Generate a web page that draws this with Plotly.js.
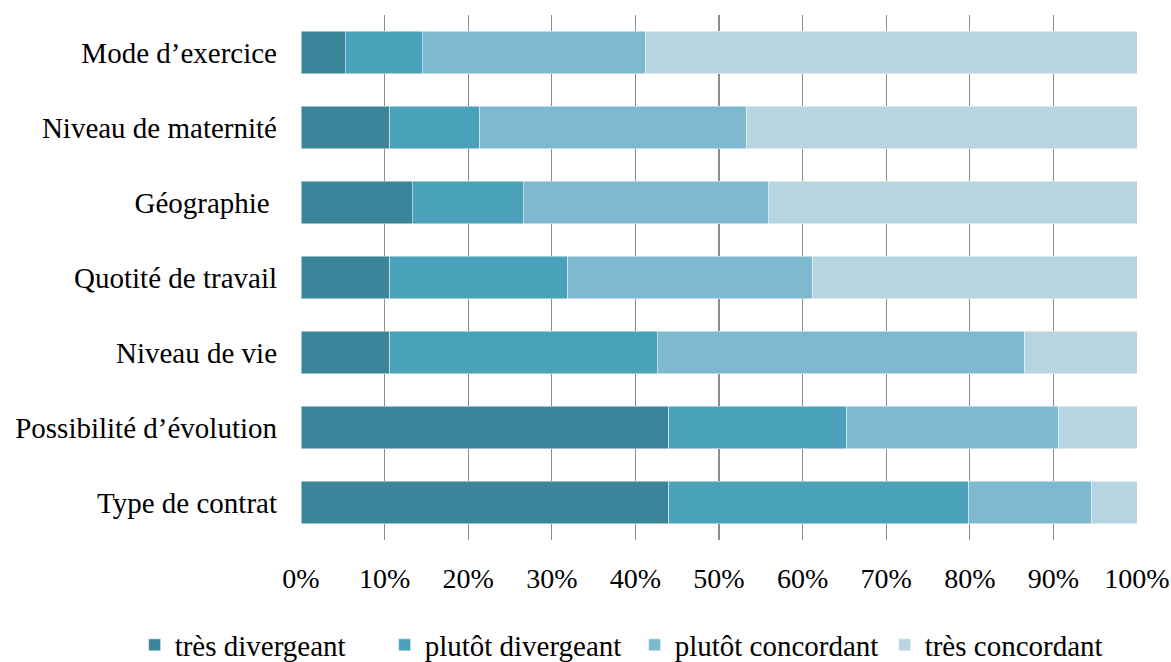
<!DOCTYPE html>
<html>
<head>
<meta charset="utf-8">
<script src="https://cdn.plot.ly/plotly-3.0.1.min.js"></script>
<style>html,body{margin:0;padding:0;background:#fff;}#chart{width:1171px;height:662px;}</style>
</head>
<body>
<div id="chart"></div>
<script>
const categories = ["Mode d\u2019exercice", "Niveau de maternit\u00e9", "G\u00e9ographie ", "Quotit\u00e9 de travail", "Niveau de vie", "Possibilit\u00e9 d\u2019\u00e9volution", "Type de contrat"];
const seriesNames = ["tr\u00e8s divergeant", "plut\u00f4t divergeant", "plut\u00f4t concordant", "tr\u00e8s concordant"];
const tresDivergeant = [5.3, 10.6, 13.3, 10.6, 10.6, 44.0, 44.0];
const plutotDivergeant = [9.2, 10.8, 13.3, 21.3, 32.0, 21.3, 35.9];
const plutotConcordant = [26.7, 31.9, 29.3, 29.3, 44.0, 25.3, 14.7];
const tresConcordant = [58.8, 46.7, 44.1, 38.8, 13.4, 9.4, 5.4];
const tickVals = [0, 10, 20, 30, 40, 50, 60, 70, 80, 90, 100];
const tickText = ["0%", "10%", "20%", "30%", "40%", "50%", "60%", "70%", "80%", "90%", "100%"];

const colors = ["#3A8599", "#49A1BA", "#7EB9CF", "#B7D5E0"];
const allValues = [tresDivergeant, plutotDivergeant, plutotConcordant, tresConcordant];
const font = "'Liberation Serif', 'Times New Roman', serif";

const traces = allValues.map((vals, i) => ({
  type: "bar",
  orientation: "h",
  name: seriesNames[i],
  x: vals,
  y: categories,
  marker: {color: colors[i], line: {color: "rgba(255,255,255,0.6)", width: 0.8}},
  hoverinfo: "x+y+name"
}));

const layout = {
  width: 1171,
  height: 662,
  barmode: "stack",
  bargap: 0.43,
  paper_bgcolor: "#fff",
  plot_bgcolor: "#fff",
  margin: {l: 301, r: 34, t: 15, b: 122, autoexpand: false},
  font: {family: font, size: 29, color: "#000"},
  xaxis: {
    range: [0, 100],
    tickvals: tickVals,
    ticktext: tickText,
    showgrid: true,
    gridcolor: "#8c8c8c",
    gridwidth: 1.4,
    zeroline: false,
    showline: false,
    ticks: "",
    ticklabelstandoff: 19,
    tickfont: {family: font, size: 28, color: "#000"},
    fixedrange: true
  },
  yaxis: {
    autorange: "reversed",
    showgrid: false,
    zeroline: false,
    showline: false,
    ticks: "",
    ticklabelstandoff: 23,
    tickfont: {family: font, size: 29, color: "#000"},
    fixedrange: true
  },
  showlegend: true,
  legend: {
    orientation: "h",
    x: -0.199,
    xref: "paper",
    xanchor: "left",
    y: -0.2,
    yref: "paper",
    yanchor: "middle",
    font: {family: font, size: 29, color: "#000"},
    traceorder: "normal",
    itemwidth: 30,
    entrywidth: 205,
    entrywidthmode: "pixels",
    tracegroupgap: 0
  }
};

Plotly.newPlot("chart", traces, layout, {displayModeBar: false, staticPlot: true});
</script>
</body>
</html>
